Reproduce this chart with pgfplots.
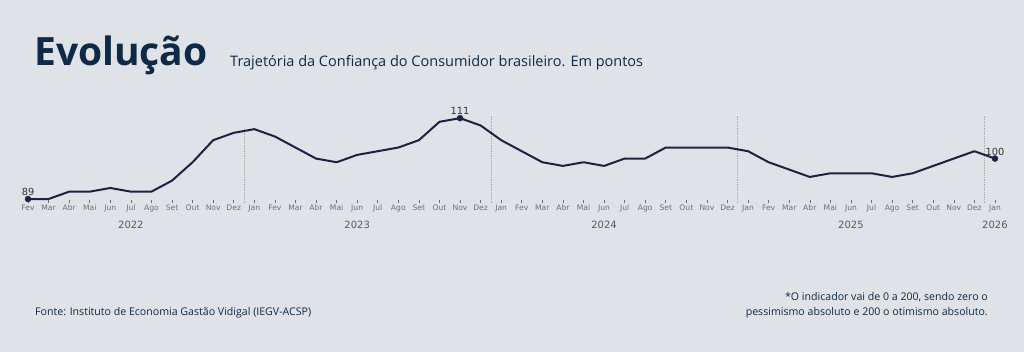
\documentclass[border=0pt]{standalone}
\usepackage{pgfplots}
\pgfplotsset{compat=1.18}
\usepackage{fontspec}
\setmainfont{Open Sans}
\newfontfamily\dejavu{DejaVu Sans}
\definecolor{bg}{HTML}{DFE2E7}
\definecolor{navy}{HTML}{0E2A47}
\definecolor{linec}{HTML}{1B2340}
\definecolor{tickc}{HTML}{6B6F78}
\definecolor{yearc}{HTML}{555A63}
\pgfplotstableread{
x y
0 89
1 89
2 91
3 91
4 92
5 91
6 91
7 94
8 99
9 105
10 107
11 108
12 106
13 103
14 100
15 99
16 101
17 102
18 103
19 105
20 110
21 111
22 109
23 105
24 102
25 99
26 98
27 99
28 98
29 100
30 100
31 103
32 103
33 103
34 103
35 102
36 99
37 97
38 95
39 96
40 96
41 96
42 95
43 96
44 98
45 100
46 102
47 100
}\datatable
\begin{document}
\begin{tikzpicture}[x=1pt,y=1pt]
\fill[bg] (0,-352) rectangle (1024,0);
\useasboundingbox (0,-352) rectangle (1024,0);
\node[anchor=base west, text=navy, font=\fontsize{39}{41}\selectfont\bfseries, inner sep=0pt] at (34,-66) {Evolução};
\node[anchor=base west, text=navy, font=\fontsize{14.5}{17}\selectfont, inner sep=0pt] at (230,-67) {Trajetória da Confiança do Consumidor brasileiro. Em pontos};
\node[anchor=base west, text=navy, font=\fontsize{10.6}{13}\selectfont, inner sep=0pt] at (35,-315) {Fonte: Instituto de Economia Gastão Vidigal (IEGV-ACSP)};
\node[anchor=base east, text=navy, font=\fontsize{10.6}{13}\selectfont, inner sep=0pt] at (988,-300) {*O indicador vai de 0 a 200, sendo zero o};
\node[anchor=base east, text=navy, font=\fontsize{10.6}{13}\selectfont, inner sep=0pt] at (988,-315) {pessimismo absoluto e 200 o otimismo absoluto.};
\begin{axis}[
  at={(7.43pt,-203.05pt)}, anchor=south west,
  scale only axis, width=1008.1pt, height=88.6pt,
  xmin=-1, xmax=48, ymin=87.9, ymax=112,
  clip=false,
  axis line style={draw=none},
  ytick=\empty,
  xtick={0,...,47},
  xtick pos=bottom,
  tick align=inside,
  major tick length=3pt,
  tick style={draw=tickc, line width=0.6pt},
  xticklabels={Fev,Mar,Abr,Mai,Jun,Jul,Ago,Set,Out,Nov,Dez,Jan,Fev,Mar,Abr,Mai,Jun,Jul,Ago,Set,Out,Nov,Dez,Jan,Fev,Mar,Abr,Mai,Jun,Jul,Ago,Set,Out,Nov,Dez,Jan,Fev,Mar,Abr,Mai,Jun,Jul,Ago,Set,Out,Nov,Dez,Jan},
  xticklabel style={font=\dejavu\fontsize{7.6}{9}\selectfont, text=tickc, inner sep=1pt, text height=6pt, text depth=1.5pt},
]
\addplot[gray!65, densely dotted, line width=0.7pt] coordinates {(10.5,87.9) (10.5,108)};
\addplot[gray!65, densely dotted, line width=0.7pt] coordinates {(22.5,87.9) (22.5,111.8)};
\addplot[gray!65, densely dotted, line width=0.7pt] coordinates {(34.5,87.9) (34.5,111.8)};
\addplot[gray!65, densely dotted, line width=0.7pt] coordinates {(46.5,87.9) (46.5,111.8)};
\addplot[linec, line width=2pt, mark=none, line join=round] table[x=x,y=y]{\datatable};
\addplot[only marks, mark=*, mark size=3pt, color=linec,
  nodes near coords, point meta=explicit symbolic,
  nodes near coords style={font=\dejavu\fontsize{9.8}{11}\selectfont, text=black!80, anchor=south, inner sep=1pt, yshift=2pt}]
  coordinates {(0,89)[89] (21,111)[111] (47,100)[100]};
\node[font=\dejavu\fontsize{10}{12}\selectfont, text=yearc] at (axis cs:5,81.9) {2022};
\node[font=\dejavu\fontsize{10}{12}\selectfont, text=yearc] at (axis cs:16,81.9) {2023};
\node[font=\dejavu\fontsize{10}{12}\selectfont, text=yearc] at (axis cs:28,81.9) {2024};
\node[font=\dejavu\fontsize{10}{12}\selectfont, text=yearc] at (axis cs:40,81.9) {2025};
\node[font=\dejavu\fontsize{10}{12}\selectfont, text=yearc] at (axis cs:47,81.9) {2026};
\end{axis}
\end{tikzpicture}
\end{document}
